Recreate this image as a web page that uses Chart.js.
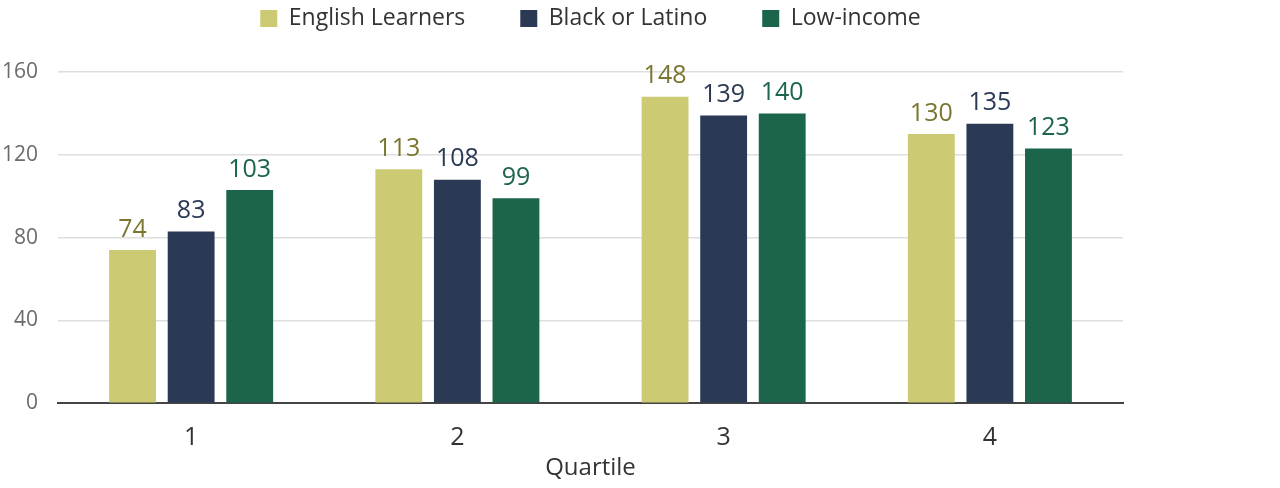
<!DOCTYPE html>
<html>
<head>
<meta charset="utf-8">
<script src="https://cdn.jsdelivr.net/npm/chart.js@4/dist/chart.umd.min.js"></script>
<style>
  html, body { margin: 0; padding: 0; background: #fff; }
  .chart-wrap { position: relative; width: 1280px; height: 488px; }
</style>
</head>
<body>
<div class="chart-wrap"><canvas id="quartileChart"></canvas></div>
<script>
const quartiles = ['1', '2', '3', '4'];
const englishLearners = [74, 113, 148, 130];
const blackOrLatino = [83, 108, 139, 135];
const lowIncome = [103, 99, 140, 123];
const yTicks = [0, 40, 80, 120, 160];

const FONT = '"Open Sans", Lato, sans-serif';

// draws the value above each bar, in the series' label colour
const barValues = {
  id: 'barValues',
  afterDatasetsDraw(chart) {
    const { ctx } = chart;
    ctx.save();
    ctx.font = `25px ${FONT}`;
    ctx.textAlign = 'center';
    ctx.textBaseline = 'bottom';
    chart.data.datasets.forEach((ds, i) => {
      const meta = chart.getDatasetMeta(i);
      ctx.fillStyle = ds.labelColor;
      meta.data.forEach((bar, j) => {
        ctx.fillText(String(ds.data[j]), bar.x, bar.y - 8);
      });
    });
    ctx.restore();
  }
};

// fixed legend height so the plot starts where the reference does
const legendSpace = {
  id: 'legendSpace',
  beforeInit(chart) {
    const fit = chart.legend.fit;
    chart.legend.fit = function () {
      fit.call(this);
      this.height = 120;
    };
  }
};

new Chart(document.querySelector('#quartileChart'), {
  type: 'bar',
  data: {
    labels: quartiles,
    datasets: [
      { label: 'English Learners', data: englishLearners, backgroundColor: '#cdca74', labelColor: '#7a7630' },
      { label: 'Black or Latino', data: blackOrLatino, backgroundColor: '#2a3a55', labelColor: '#2a3a55' },
      { label: 'Low-income', data: lowIncome, backgroundColor: '#1b654b', labelColor: '#1b654b' }
    ]
  },
  options: {
    responsive: true,
    maintainAspectRatio: false,
    animation: false,
    datasets: { bar: { categoryPercentage: 0.66, barPercentage: 0.8 } },
    layout: { padding: { left: -18, right: 157, top: -48, bottom: 5 } },
    plugins: {
      legend: {
        position: 'top',
        fullSize: false,
        labels: { color: '#333', font: { family: FONT, size: 23 }, boxWidth: 17, boxHeight: 17, padding: 55 }
      },
      tooltip: { enabled: false }
    },
    scales: {
      x: {
        grid: { display: false, drawTicks: false },
        border: { color: '#444', width: 2 },
        ticks: { color: '#333', font: { family: FONT, size: 25 }, padding: 20 },
        title: { display: true, text: 'Quartile', color: '#333', font: { family: FONT, size: 24 }, padding: { top: -19, bottom: 0 } }
      },
      y: {
        min: 0,
        max: 160,
        afterBuildTicks: (axis) => { axis.ticks = yTicks.map((v) => ({ value: v })); },
        grid: { color: '#dedede', lineWidth: 1.5, drawTicks: false },
        border: { display: false },
        ticks: { color: '#6b6b6b', font: { family: FONT, size: 21 }, padding: 20 }
      }
    }
  },
  plugins: [barValues, legendSpace]
});
</script>
</body>
</html>
